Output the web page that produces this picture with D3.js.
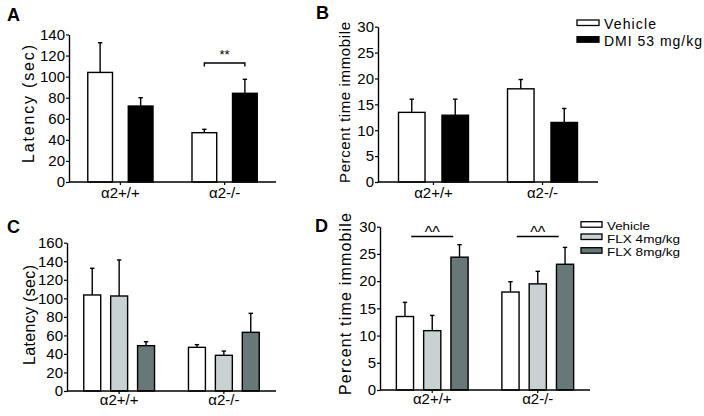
<!DOCTYPE html>
<html>
<head>
<meta charset="utf-8">
<script src="https://cdn.jsdelivr.net/npm/d3@7"></script>
<style>
  body { margin: 0; background: #fff; }
  svg { display: block; font-family: "Liberation Sans", Arial, sans-serif; }
</style>
</head>
<body>
<div id="chart"></div>
<script>
// ---- data ----
var groups = ["α2+/+", "α2-/-"];

var seriesDMI = ["Vehicle", "DMI 53 mg/kg"];
var seriesFLX = ["Vehicle", "FLX 4mg/kg", "FLX 8mg/kg"];

// A: latency, vehicle vs DMI
var latVehicle = [104, 46.8],  latVehicleErr = [28.2, 3.2];
var latDMI     = [72.1, 84.2], latDMIErr     = [7.9, 13.3];
// B: percent time immobile, vehicle vs DMI
var immVehicle = [13.45, 18.0], immVehicleErr = [2.55, 1.8];
var immDMI     = [12.9, 11.5],  immDMIErr     = [3.1, 2.7];
// C: latency, fluoxetine
var latFlxVehicle = [103.6, 47.1], latFlxVehicleErr = [28.8, 2.9];
var latFlx4       = [102.5, 38.5], latFlx4Err       = [38.9, 4.6];
var latFlx8       = [48.9, 63.3],  latFlx8Err       = [4.3, 20.5];
// D: percent time immobile, fluoxetine
var immFlxVehicle = [13.5, 18.0], immFlxVehicleErr = [2.6, 1.9];
var immFlx4       = [10.9, 19.5], immFlx4Err       = [2.8, 2.3];
var immFlx8       = [24.4, 23.1], immFlx8Err       = [2.3, 3.1];

var ticksLat140 = [0, 20, 40, 60, 80, 100, 120, 140];
var ticksLat160 = [0, 20, 40, 60, 80, 100, 120, 140, 160];
var ticksPct    = [0, 5, 10, 15, 20, 25, 30];

var colorsDMI = ["#ffffff", "#000000"];
var colorsFLX = ["#ffffff", "#c9d2d2", "#667878"];

var svg = d3.select("#chart").append("svg")
    .attr("width", 704)
    .attr("height", 416);

/**
*   barPanel    draws one grouped bar chart with error bars
*/
function barPanel(p)
{
    var g = svg.append("g");

    var x = d3.scaleBand()
        .domain(groups)
        .range([p.x0, p.x1])
        .paddingInner(p.padInner)
        .paddingOuter(p.padOuter);

    var xi = d3.scaleBand()
        .domain(p.series)
        .range([0, x.bandwidth()])
        .paddingInner(p.barPad);

    var y = d3.scaleLinear()
        .domain([0, p.ymax])
        .range([p.y0, p.y1]);

    var rows = [];
    p.series.forEach(function(s, si) {
        groups.forEach(function(gr, gi) {
            rows.push({ group: gr, series: s, si: si,
                        value: p.values[si][gi], err: p.errs[si][gi] });
        });
    });

    var bx = function(d) { return x(d.group) + xi(d.series); };
    var cx = function(d) { return bx(d) + xi.bandwidth() / 2; };

    // error whiskers (drawn under bars)
    g.selectAll(".err")
        .data(rows)
      .enter().append("line")
        .attr("x1", cx).attr("x2", cx)
        .attr("y1", function(d) { return y(d.value); })
        .attr("y2", function(d) { return y(d.value + d.err); })
        .style("stroke", "#000").style("stroke-width", 1.4);
    g.selectAll(".cap")
        .data(rows)
      .enter().append("line")
        .attr("x1", function(d) { return cx(d) - 2.2; })
        .attr("x2", function(d) { return cx(d) + 2.2; })
        .attr("y1", function(d) { return y(d.value + d.err); })
        .attr("y2", function(d) { return y(d.value + d.err); })
        .style("stroke", "#000").style("stroke-width", 1.4);

    g.selectAll(".bar")
        .data(rows)
      .enter().append("rect")
        .attr("x", bx)
        .attr("y", function(d) { return y(d.value); })
        .attr("width", xi.bandwidth())
        .attr("height", function(d) { return y(0) - y(d.value); })
        .style("fill", function(d) { return p.colors[d.si]; })
        .style("stroke", "#000")
        .style("stroke-width", 1.4);

    // axes
    var ya = g.append("g")
        .attr("transform", "translate(" + p.x0 + ",0)")
        .call(d3.axisLeft(y).tickValues(p.ticks).tickSize(3).tickPadding(1).tickSizeOuter(0));
    var xa = g.append("g")
        .attr("transform", "translate(0," + p.y0 + ")")
        .call(d3.axisBottom(x).tickSize(3).tickPadding(p.xlabPad).tickSizeOuter(0));
    [ya, xa].forEach(function(a) {
        a.select(".domain").style("stroke", "#000").style("stroke-width", 1.4);
        a.selectAll(".tick line").style("stroke", "#000").style("stroke-width", 1.2);
        a.selectAll("text")
            .style("font-family", "'Liberation Sans', Arial, sans-serif")
            .style("font-size", "15px")
            .style("fill", "#000");
    });
    // x axis line runs full width
    xa.select(".domain").attr("d", "M" + p.x0 + ",0H" + p.x1);

    // axis title
    g.append("text")
        .attr("transform", "translate(" + p.titleX + "," + p.titleY + ") rotate(-90)")
        .attr("text-anchor", "middle")
        .attr("textLength", p.titleLen)
        .attr("lengthAdjust", "spacing")
        .style("font-size", p.titleSize + "px")
        .text(p.title);

    // panel letter
    g.append("text")
        .attr("x", p.letterX).attr("y", p.letterY)
        .style("font-size", "18px").style("font-weight", "bold")
        .text(p.letter);

    return { g: g, x: x, xi: xi, y: y };
}

function legend(items, colors, lx, boxW, boxH, ys, textYs, size, lens, adjust)
{
    var lg = svg.append("g");
    items.forEach(function(name, i) {
        lg.append("rect")
            .attr("x", lx).attr("y", ys[i])
            .attr("width", boxW).attr("height", boxH)
            .style("fill", colors[i]).style("stroke", "#000").style("stroke-width", 1.3);
        lg.append("text")
            .attr("x", lx + boxW + 5).attr("y", textYs[i])
            .attr("textLength", lens[i]).attr("lengthAdjust", adjust)
            .style("font-size", size + "px")
            .text(name);
    });
}

////////////////////////////////////////////////////////////////////////

var A = barPanel({
    letter: "A", letterX: 7, letterY: 21,
    series: seriesDMI, colors: colorsDMI,
    values: [latVehicle, latDMI], errs: [latVehicleErr, latDMIErr],
    x0: 69, x1: 276, y0: 182, y1: 34.5, ymax: 140, ticks: ticksLat140,
    padInner: 0.374, padOuter: 0.18, barPad: 0.39, xlabPad: 2,
    title: "Latency (sec)", titleX: 34, titleY: 104, titleLen: 118, titleSize: 16
});

var B = barPanel({
    letter: "B", letterX: 316, letterY: 19,
    series: seriesDMI, colors: colorsDMI,
    values: [immVehicle, immDMI], errs: [immVehicleErr, immDMIErr],
    x0: 378, x1: 598, y0: 182, y1: 26.7, ymax: 30, ticks: ticksPct,
    padInner: 0.358, padOuter: 0.188, barPad: 0.39, xlabPad: 2,
    title: "Percent time immobile", titleX: 350, titleY: 102.5, titleLen: 161, titleSize: 15
});

var C = barPanel({
    letter: "C", letterX: 7, letterY: 233,
    series: seriesFLX, colors: colorsFLX,
    values: [latFlxVehicle, latFlx4, latFlx8], errs: [latFlxVehicleErr, latFlx4Err, latFlx8Err],
    x0: 67, x1: 276, y0: 391, y1: 242.7, ymax: 160, ticks: ticksLat160,
    padInner: 0.324, padOuter: 0.16, barPad: 0.37, xlabPad: 0.5,
    title: "Latency (sec)", titleX: 35, titleY: 315, titleLen: 100, titleSize: 16
});

var D = barPanel({
    letter: "D", letterX: 315, letterY: 232,
    series: seriesFLX, colors: colorsFLX,
    values: [immFlxVehicle, immFlx4, immFlx8], errs: [immFlxVehicleErr, immFlx4Err, immFlx8Err],
    x0: 380, x1: 590, y0: 390, y1: 226.7, ymax: 30, ticks: ticksPct,
    padInner: 0.32, padOuter: 0.155, barPad: 0.37, xlabPad: 0.5,
    title: "Percent time immobile", titleX: 351, titleY: 304, titleLen: 182, titleSize: 16
});

// significance bracket in A (alpha2-/-: vehicle vs DMI)
var bA = A.x(groups[1]);
var bl = bA + A.xi(seriesDMI[0]) + A.xi.bandwidth() / 2;
var br = bA + A.xi(seriesDMI[1]) + A.xi.bandwidth() / 2;
var by = A.y(113);
A.g.append("path")
    .attr("d", "M" + bl + "," + (by + 3.5) + "V" + by + "H" + br + "V" + (by + 3.5))
    .style("fill", "none").style("stroke", "#000").style("stroke-width", 1.4);
A.g.append("text")
    .attr("x", (bl + br) / 2).attr("y", by - 3.5)
    .attr("text-anchor", "middle")
    .style("font-size", "13px")
    .text("**");

// ^^ lines in D over each genotype
groups.forEach(function(gr) {
    var c = D.x(gr) + D.x.bandwidth() / 2;
    var ly = D.y(28.2);
    D.g.append("line")
        .attr("x1", c - 21).attr("x2", c + 21)
        .attr("y1", ly).attr("y2", ly)
        .style("stroke", "#000").style("stroke-width", 1.3);
    D.g.append("text")
        .attr("x", c).attr("y", ly + 1.5)
        .attr("text-anchor", "middle")
        .style("font-size", "16px")
        .text("^^");
});

legend(seriesDMI, colorsDMI, 577, 22, 5.5, [20, 36.7], [28.5, 46], 14, [52, 98], "spacing");
legend(seriesFLX, colorsFLX, 581, 21, 5.5, [221.7, 234, 247.7], [229.5, 242.5, 256], 11.5, [43, 73, 73], "spacingAndGlyphs");
</script>
</body>
</html>
